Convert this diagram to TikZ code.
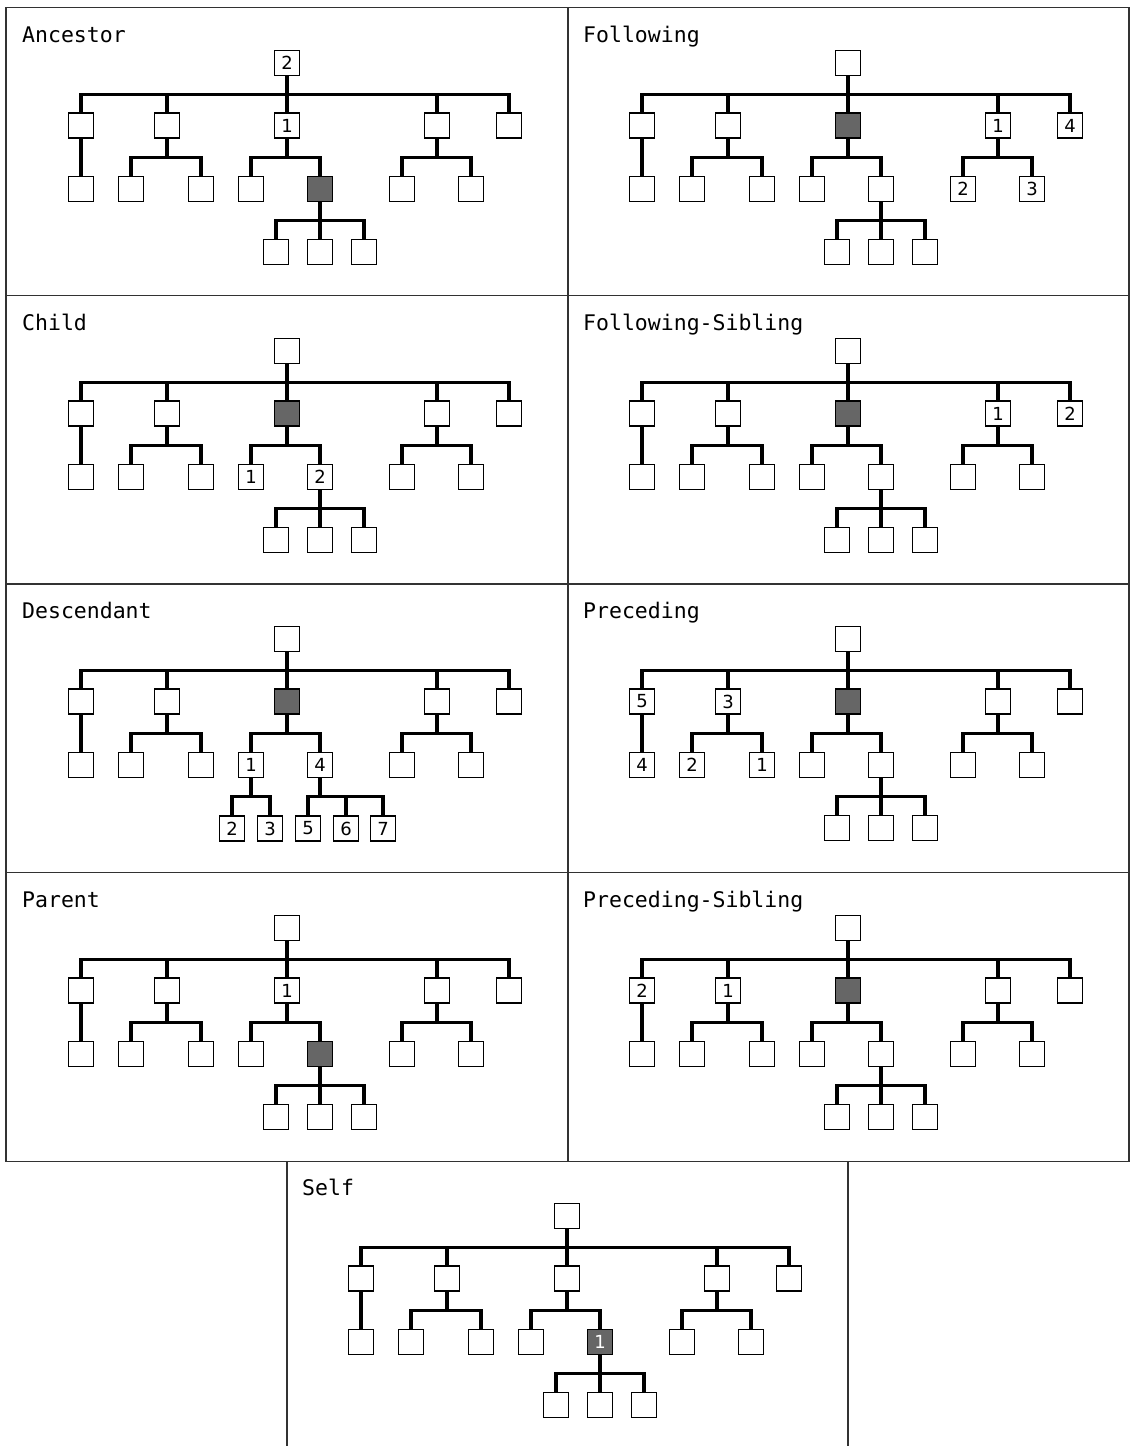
\documentclass[tikz,border=0pt]{standalone}
\usepackage{fontspec}
\setmainfont{DejaVu Sans}
\newfontfamily\ttlfont{DejaVu Sans Mono}
\definecolor{darkfill}{RGB}{102,102,102}
\definecolor{framecol}{RGB}{50,50,50}
\tikzset{
  box/.style={draw=black, line width=1.5pt, fill=white, minimum width=25pt,
    minimum height=25pt, inner sep=0pt, font=\fontsize{18}{18}\selectfont},
  dark/.style={fill=darkfill, text=white},
  edge/.style={line width=3.2pt},
  frame/.style={line width=1.5pt, draw=framecol},
  ttl/.style={anchor=base west, inner sep=0pt, font=\ttlfont\fontsize{21.5}{22}\selectfont}
}
\newcommand\lab[2]{\expandafter\def\csname L#1\endcsname{#2}}
\newcommand\tb[4]{\node[box,#1#2/.try] (#1#2) at (#3,#4) {\csname L#1#2\endcsname};}
\newcommand\ed[3]{\draw[edge] (#1#2.south) -- ++(0,18.5) -| (#1#3.north);}
% #1 prefix, #2 x0, #3 y0, #4 title
\newcommand\treebase[4]{%
  \node[ttl] (#1t) at (#2+16,#3+34.5) {#4};
  \begin{scope}[shift={(#2,#3)}]
  \tb{#1}{r}{281}{55}
  \tb{#1}{a}{75}{117.5}
  \tb{#1}{b}{161}{117.5}
  \tb{#1}{c}{281}{117.5}
  \tb{#1}{d}{431}{117.5}
  \tb{#1}{e}{503}{117.5}
  \tb{#1}{a1}{75}{181}
  \tb{#1}{b1}{125}{181}
  \tb{#1}{b2}{195}{181}
  \tb{#1}{c1}{245}{181}
  \tb{#1}{c2}{314}{181}
  \tb{#1}{d1}{396}{181}
  \tb{#1}{d2}{465}{181}
  \end{scope}
  \ed{#1}{r}{a}\ed{#1}{r}{b}\ed{#1}{r}{c}\ed{#1}{r}{d}\ed{#1}{r}{e}
  \ed{#1}{a}{a1}\ed{#1}{b}{b1}\ed{#1}{b}{b2}
  \ed{#1}{c}{c1}\ed{#1}{c}{c2}\ed{#1}{d}{d1}\ed{#1}{d}{d2}
}
\newcommand\stdtree[4]{%
  \treebase{#1}{#2}{#3}{#4}
  \begin{scope}[shift={(#2,#3)}]
  \tb{#1}{c21}{270}{244}
  \tb{#1}{c22}{314}{244}
  \tb{#1}{c23}{358}{244}
  \end{scope}
  \ed{#1}{c2}{c21}\ed{#1}{c2}{c22}\ed{#1}{c2}{c23}
}
\newcommand\desctree[4]{%
  \treebase{#1}{#2}{#3}{#4}
  \begin{scope}[shift={(#2,#3)}]
  \tb{#1}{c11}{226}{244.5}
  \tb{#1}{c12}{264}{244.5}
  \tb{#1}{c21}{302}{244.5}
  \tb{#1}{c22}{340}{244.5}
  \tb{#1}{c23}{377}{244.5}
  \end{scope}
  \ed{#1}{c1}{c11}\ed{#1}{c1}{c12}
  \ed{#1}{c2}{c21}\ed{#1}{c2}{c22}\ed{#1}{c2}{c23}
}
% labels and highlights
\lab{pAr}{2}\lab{pAc}{1}
\lab{pFd}{1}\lab{pFd1}{2}\lab{pFd2}{3}\lab{pFe}{4}
\lab{pCc1}{1}\lab{pCc2}{2}
\lab{pGd}{1}\lab{pGe}{2}
\lab{pDc1}{1}\lab{pDc11}{2}\lab{pDc12}{3}\lab{pDc2}{4}\lab{pDc21}{5}\lab{pDc22}{6}\lab{pDc23}{7}
\lab{pPa}{5}\lab{pPa1}{4}\lab{pPb}{3}\lab{pPb1}{2}\lab{pPb2}{1}
\lab{pQc}{1}
\lab{pRa}{2}\lab{pRb}{1}
\lab{pSc2}{1}
\tikzset{
  pAc2/.style={dark}, pFc/.style={dark}, pCc/.style={dark}, pGc/.style={dark},
  pDc/.style={dark}, pPc/.style={dark}, pQc2/.style={dark}, pRc/.style={dark},
  pSc2/.style={dark}
}
\begin{document}
\begin{tikzpicture}[x=1pt,y=-1pt]
\useasboundingbox (0,0) rectangle (1134,1446);
% frames
\draw[frame] (6,7.5) rectangle (1129,1161.5);
\draw[frame] (568,7.5) -- (568,1161.5);
\draw[frame] (6,295.5) -- (1129,295.5);
\draw[frame] (6,584) -- (1129,584);
\draw[frame] (6,872.5) -- (1129,872.5);
\draw[frame] (287,1161.5) -- (287,1446);
\draw[frame] (848,1161.5) -- (848,1446);
% panels
\stdtree{pA}{6}{8}{Ancestor}
\stdtree{pF}{567}{8}{Following}
\stdtree{pC}{6}{296}{Child}
\stdtree{pG}{567}{296}{Following-Sibling}
\desctree{pD}{6}{584}{Descendant}
\stdtree{pP}{567}{584}{Preceding}
\stdtree{pQ}{6}{873}{Parent}
\stdtree{pR}{567}{873}{Preceding-Sibling}
\stdtree{pS}{286}{1161}{Self}
\end{tikzpicture}
\end{document}
